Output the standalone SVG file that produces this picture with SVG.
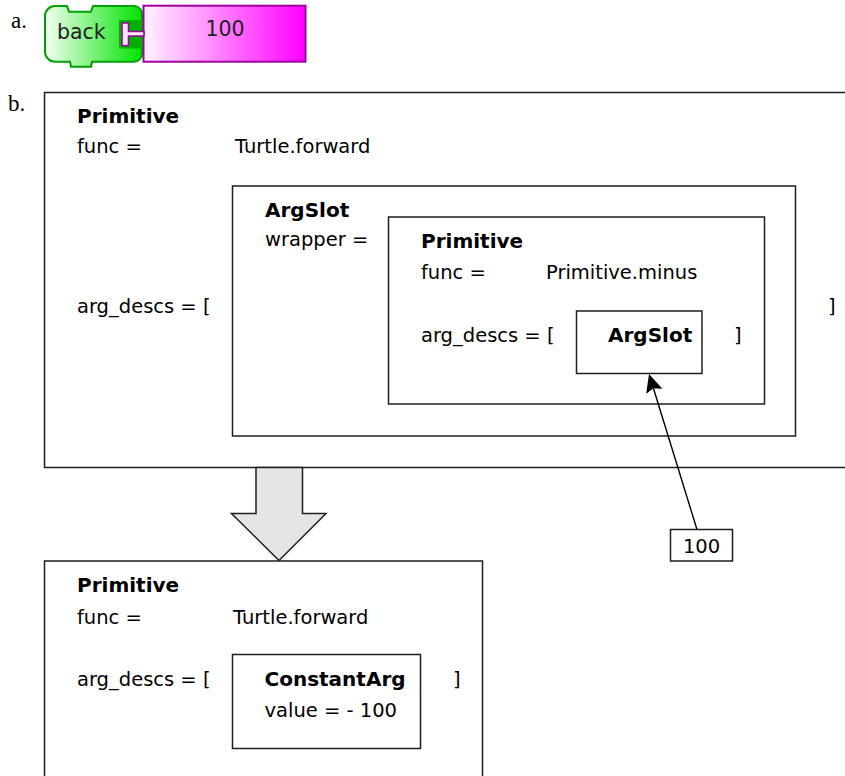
<svg xmlns="http://www.w3.org/2000/svg" width="845" height="776" viewBox="0 0 845 776">
  <defs>
    <linearGradient id="gradGreen" x1="0" y1="0" x2="1" y2="0">
      <stop offset="0" stop-color="#f4fff4"/>
      <stop offset="1" stop-color="#00e400"/>
    </linearGradient>
    <linearGradient id="gradMagenta" x1="0" y1="0" x2="1" y2="0">
      <stop offset="0" stop-color="#fff4ff"/>
      <stop offset="1" stop-color="#ff00ff"/>
    </linearGradient>
  </defs>
  <style>
    .label { font-family: "Liberation Serif", "DejaVu Serif", serif; font-size: 23px; fill: #000; }
    .t { font-family: "DejaVu Sans", "Noto Sans", sans-serif; font-size: 19.5px; fill: #000; }
    .b { font-weight: bold; font-size: 20px; }
    .box { fill: #fff; stroke: #1e1e1e; stroke-width: 1.5; }
    .blk { font-family: "DejaVu Sans", "Noto Sans", sans-serif; font-size: 20.5px; fill: #222; }
  </style>
  <rect x="0" y="0" width="845" height="776" fill="#fff"/>

  <!-- part a: the block pair -->
  <text class="label" x="11" y="27.5">a.</text>
  <g id="block-back">
    <path d="M45,16 A10,10 0 0 1 55,6 H67 L69,11.7 H91 L93,6 H134 A8,8 0 0 1 142,14 V53.7 A8,8 0 0 1 134,61.7 H92 L91,66.7 H71 L70,61.7 H55 A10,10 0 0 1 45,51.7 Z" fill="url(#gradGreen)" stroke="#00a000" stroke-width="2"/>
    <rect x="119" y="20" width="24" height="28.5" fill="#00b000"/>
    <text class="blk" x="57" y="38.5">back</text>
  </g>
  <g id="block-100">
    <rect x="143.5" y="5.7" width="162" height="56" fill="url(#gradMagenta)" stroke="#a000a0" stroke-width="2"/>
    <polygon points="144,31.5 128.5,31.5 128.5,23 122,23 122,45.5 128.5,45.5 128.5,36 144,36" fill="#ffe8ff" stroke="#a000a0" stroke-width="1.6"/>
    <text class="blk" x="225" y="36" text-anchor="middle">100</text>
  </g>

  <!-- part b -->
  <text class="label" x="8" y="111">b.</text>

  <g id="primitive-forward">
    <rect class="box" x="44.5" y="92.5" width="830" height="375"/>
    <text class="t b" x="77" y="123">Primitive</text>
    <text class="t" x="77" y="153">func =</text>
    <text class="t" x="235" y="153">Turtle.forward</text>
    <text class="t" x="77" y="313">arg_descs = [</text>
    <text class="t" x="828" y="313">]</text>
  </g>

  <g id="argslot-wrapper">
    <rect class="box" x="232.5" y="186" width="563" height="250"/>
    <text class="t b" x="265" y="217">ArgSlot</text>
    <text class="t" x="265" y="246">wrapper =</text>
  </g>

  <g id="primitive-minus">
    <rect class="box" x="388.5" y="217" width="376" height="187"/>
    <text class="t b" x="421" y="248">Primitive</text>
    <text class="t" x="421" y="279">func =</text>
    <text class="t" x="546" y="279">Primitive.minus</text>
    <text class="t" x="421" y="342">arg_descs = [</text>
    <text class="t" x="734" y="342">]</text>
  </g>

  <g id="argslot-inner">
    <rect class="box" x="576.5" y="311" width="125.5" height="62.5"/>
    <text class="t b" x="608" y="342">ArgSlot</text>
  </g>

  <g id="value-100">
    <rect class="box" x="670.5" y="529.5" width="62" height="31.5"/>
    <text class="t" x="701.5" y="552.5" text-anchor="middle">100</text>
  </g>

  <g id="primitive-result">
    <rect class="box" x="44.5" y="561" width="438" height="240"/>
    <text class="t b" x="77" y="592">Primitive</text>
    <text class="t" x="77" y="624">func =</text>
    <text class="t" x="233" y="624">Turtle.forward</text>
    <text class="t" x="77" y="686">arg_descs = [</text>
    <text class="t" x="453" y="686">]</text>
  </g>

  <g id="constant-arg">
    <rect class="box" x="232.5" y="654.5" width="188" height="94"/>
    <text class="t b" x="264.5" y="686">ConstantArg</text>
    <text class="t" x="264.5" y="717">value = - 100</text>
  </g>

  <g id="connectors">
    <!-- value plugged into the slot -->
    <line x1="697" y1="529.5" x2="653.4" y2="388.3" stroke="#000" stroke-width="1.4"/>
    <polygon points="649,374 662.4,388.7 653.4,388.3 646.2,393.7" fill="#000"/>
    <!-- transformation arrow -->
    <polygon points="256,467.5 302.5,467.5 302.5,513.5 326,513.5 279,560.5 231.5,513.5 256,513.5" fill="#e5e5e5" stroke="#1e1e1e" stroke-width="1.5" stroke-linejoin="miter"/>
  </g>
</svg>
